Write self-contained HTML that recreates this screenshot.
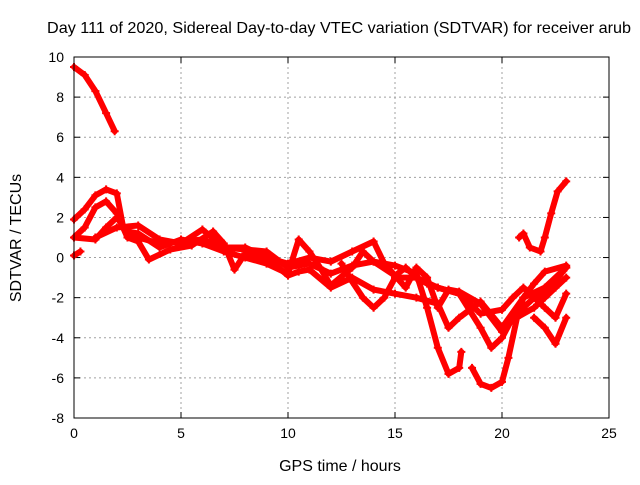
<!DOCTYPE html>
<html><head><meta charset="utf-8"><style>
body{margin:0;background:#fff}
text{font-family:"Liberation Sans",sans-serif;font-size:14px;fill:#000}
.big{font-size:16px}
</style></head><body>
<svg id="chart" width="640" height="480" viewBox="0 0 640 480" xmlns="http://www.w3.org/2000/svg">
<rect width="640" height="480" fill="#fff"/>
<text class="big" x="339" y="33" text-anchor="middle" textLength="584" lengthAdjust="spacingAndGlyphs">Day 111 of 2020, Sidereal Day-to-day VTEC variation (SDTVAR) for receiver arub</text>
<text class="big" x="340" y="471" text-anchor="middle">GPS time / hours</text>
<text class="big" x="0" y="0" text-anchor="middle" transform="translate(21,238) rotate(-90)">SDTVAR / TECUs</text>
<g id="grid"></g><g id="series"></g>
<rect x="74" y="57" width="535" height="361" fill="none" stroke="#000" stroke-width="1"/>
</svg>
<script>
const xTicks=[0,5,10,15,20,25];
const yTicks=[-8,-6,-4,-2,0,2,4,6,8,10];
const trackA_x=[0,0.5,1,1.5,1.9];
const trackA_y=[9.5,9.1,8.3,7.2,6.3];
const trackB_x=[0,0.5,1,1.5,2,2.3,3,4,5,6,7,8,9,10,11,12,13,14,15,16,16.5,17,17.5,18,18.1];
const trackB_y=[1.9,2.4,3.1,3.4,3.2,1.5,1.0,0.7,0.8,0.9,0.5,0.4,0.3,-0.5,-0.3,-0.8,-0.4,-0.2,-0.4,-0.8,-2.5,-4.5,-5.8,-5.5,-4.7];
const trackC_x=[0,0.5,1,1.5,2,2.5,3,3.5,4.5,5.5,6.5,7,7.5,8,9,10,10.5,11,12,13,14,15,16,17,17.5,18,19,20,21,22,23];
const trackC_y=[1.0,1.5,2.5,2.8,2.2,1.0,0.8,-0.1,0.4,0.6,1.3,0.7,-0.6,0.2,0,-0.9,-0.7,-0.6,-1.5,-1.0,-1.6,-1.8,-2.0,-2.3,-3.5,-3.0,-2.2,-3.5,-2.0,-1.5,-0.5];
const trackD_x=[0,1,1.5,2,2.5,3,4,5,6,7,8,9,10,10.5,11,11.5,12,13,13.5,14,15,15.5,16,16.5,17,18,19,20,20.5,21,22,22.5,23];
const trackD_y=[1.0,0.9,1.5,2.0,1.3,1.2,0.5,0.9,0.7,0.3,0.0,-0.3,-0.8,0.9,0.3,-0.5,-1.4,-0.5,0.3,-0.2,-0.9,-0.5,-1.0,-1.3,-1.5,-1.8,-2.8,-2.6,-2.0,-1.5,-2.5,-3.0,-1.8];
const trackE_x=[1,2,3,4,5,6,7,8,9,10,11,12,13,14,14.5,15.5,16,16.5,17,17.5,18,19,20,20.5,21.5,22,22.5,23];
const trackE_y=[1.0,1.5,1.6,0.9,0.7,1.4,0.5,0.5,0,-0.3,0,-0.2,0.3,0.8,-0.3,-1.5,-0.5,-1.0,-2.5,-1.6,-1.7,-2.3,-3.7,-3.1,-2.5,-2.0,-1.5,-1.0];
const trackF_x=[12.5,13,13.5,14,14.5,15,16,17,18,19,19.5,20,20.5,21,21.5,22,23];
const trackF_y=[-0.3,-1.2,-2.0,-2.5,-2.0,-1.0,-1.0,-1.5,-1.8,-3.5,-4.5,-4.0,-3.0,-2.5,-2.0,-1.8,-0.5];
const trackG_x=[18.6,19,19.5,20,20.3,20.7,21,21.5,22,23];
const trackG_y=[-5.5,-6.3,-6.5,-6.2,-5.0,-3.0,-2.0,-1.3,-0.7,-0.4];
const trackH_x=[20.8,21,21.3,21.8,22,22.3,22.6,23];
const trackH_y=[1.0,1.2,0.5,0.3,1.0,2.2,3.3,3.8];
const trackI_x=[21.5,22,22.5,23];
const trackI_y=[-3.0,-3.5,-4.3,-3.0];
const trackJ_x=[0,0.3];
const trackJ_y=[0.1,0.3];
const tracks=[[trackA_x,trackA_y],[trackB_x,trackB_y],[trackC_x,trackC_y],[trackD_x,trackD_y],[trackE_x,trackE_y],[trackF_x,trackF_y],[trackG_x,trackG_y],[trackH_x,trackH_y],[trackI_x,trackI_y],[trackJ_x,trackJ_y]];
const NS="http://www.w3.org/2000/svg";
const X0=74,X1=609,Y0=418,Y1=57;
function sx(v){return X0+(v-0)/(25-0)*(X1-X0);}
function sy(v){return Y0-(v+8)/(18)*(Y0-Y1);}
const grid=document.getElementById('grid');
function mk(t,a,p){const e=document.createElementNS(NS,t);for(const k in a)e.setAttribute(k,a[k]);p.appendChild(e);return e;}
xTicks.forEach(t=>{
 const x=sx(t);
 if(t>0&&t<25){const g=mk('line',{x1:x,x2:x,y1:Y1,y2:Y0,stroke:'#a0a0a0','stroke-dasharray':'2,3'},grid);
 
 }
 mk('line',{x1:x,x2:x,y1:Y0,y2:Y0-6,stroke:'#000'},grid);
 mk('line',{x1:x,x2:x,y1:Y1,y2:Y1+6,stroke:'#000'},grid);
 const l=mk('text',{x:x,y:Y0+20,'text-anchor':'middle'},grid);l.textContent=t;
 
 
});
yTicks.forEach(t=>{
 const y=sy(t);
 if(t>-8&&t<10){const g=mk('line',{x1:X0,x2:X1,y1:y,y2:y,stroke:'#a0a0a0','stroke-dasharray':'2,3'},grid);
 
 }
 mk('line',{x1:X0,x2:X0+6,y1:y,y2:y,stroke:'#000'},grid);
 mk('line',{x1:X1,x2:X1-6,y1:y,y2:y,stroke:'#000'},grid);
 const l=mk('text',{x:X0-10,y:y+5,'text-anchor':'end'},grid);l.textContent=t;
 
 
});
const ser=document.getElementById('series');
tracks.forEach(([xs,ys])=>{
 const pts=xs.map((x,i)=>sx(x).toFixed(1)+','+sy(ys[i]).toFixed(1)).join(' ');
 const pl=mk('polyline',{points:pts,fill:'none',stroke:'#ff0000','stroke-width':6,'stroke-linejoin':'round','stroke-linecap':'round'},ser);
 
 
 xs.forEach((x,i)=>{
  const cx=sx(x),cy=sy(ys[i]);
  const p=mk('path',{d:`M${cx-4},${cy}h8M${cx},${cy-4}v8`,stroke:'#ff0000','stroke-width':2},ser);
  
  
 });
});
</script>
</body></html>
